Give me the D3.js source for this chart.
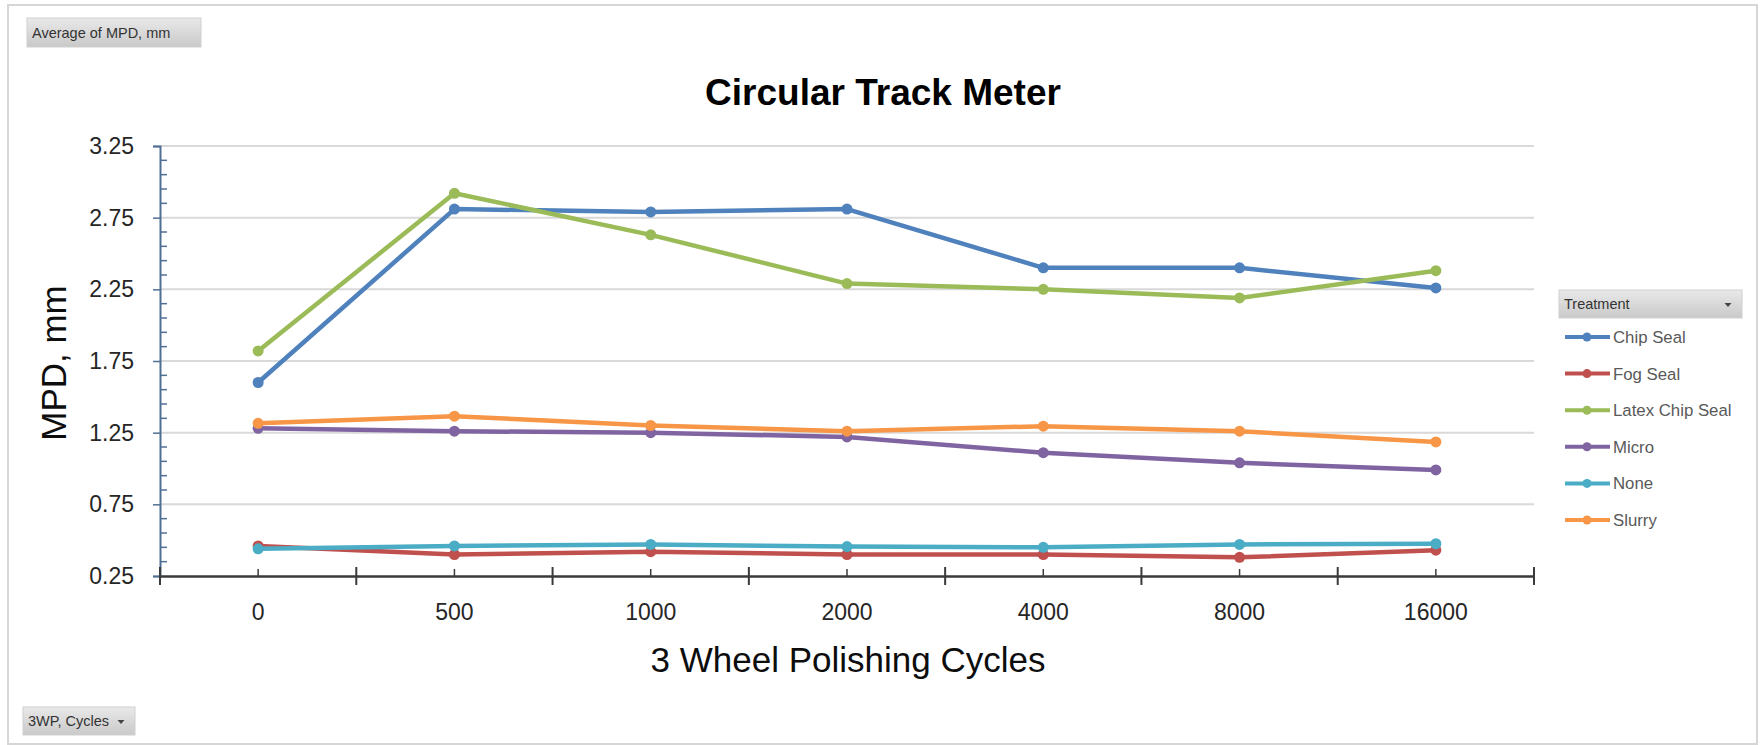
<!DOCTYPE html>
<html>
<head>
<meta charset="utf-8">
<script src="https://cdn.jsdelivr.net/npm/d3@7"></script>
<style>
  html, body { margin: 0; padding: 0; background: #fff; }
  svg { display: block; font-family: "Liberation Sans", Arial, sans-serif; }
</style>
</head>
<body>
<svg id="chart" width="1763" height="745"></svg>
<script>
// ---- data ----
const cycles = ["0", "500", "1000", "2000", "4000", "8000", "16000"];
const seriesNames = ["Chip Seal", "Fog Seal", "Latex Chip Seal", "Micro", "None", "Slurry"];
const chipSeal = [1.60, 2.81, 2.79, 2.81, 2.40, 2.40, 2.26];
const fogSeal = [0.46, 0.40, 0.42, 0.40, 0.40, 0.38, 0.43];
const latexChipSeal = [1.82, 2.92, 2.63, 2.29, 2.25, 2.19, 2.38];
const micro = [1.28, 1.26, 1.25, 1.22, 1.11, 1.04, 0.99];
const none = [0.44, 0.46, 0.47, 0.455, 0.45, 0.47, 0.475];
const slurry = [1.315, 1.365, 1.30, 1.26, 1.295, 1.26, 1.185];
const yTicks = [0.25, 0.75, 1.25, 1.75, 2.25, 2.75, 3.25];
const seriesColors = ["#4F81BD", "#C0504D", "#9BBB59", "#8064A2", "#4BACC6", "#F79646"];

const seriesValues = [chipSeal, fogSeal, latexChipSeal, micro, none, slurry];
const series = seriesNames.map((n, i) => ({ name: n, color: seriesColors[i], values: seriesValues[i] }));

const svg = d3.select("#chart");

// gradient for the pivot buttons
const defs = svg.append("defs");
const grad = defs.append("linearGradient").attr("id", "btn").attr("x1", 0).attr("y1", 0).attr("x2", 0).attr("y2", 1);
grad.append("stop").attr("offset", "0%").attr("stop-color", "#e9e9e9");
grad.append("stop").attr("offset", "100%").attr("stop-color", "#c9c9c9");

// outer border
svg.append("rect").attr("x", 8).attr("y", 5).attr("width", 1749).attr("height", 739)
  .attr("fill", "#fff").attr("stroke", "#d6d6d6").attr("stroke-width", 2);

// scales
const plotLeft = 160, plotRight = 1534, plotTop = 146, plotBottom = 576;
const x = d3.scaleBand().domain(cycles).range([plotLeft, plotRight]).padding(0);
const y = d3.scaleLinear().domain([0.25, 3.25]).range([plotBottom, plotTop]);
const cx = d => x(d) + x.bandwidth() / 2;

// gridlines
svg.append("g").selectAll("line").data(yTicks.slice(1)).join("line")
  .attr("x1", plotLeft).attr("x2", plotRight)
  .attr("y1", d => y(d)).attr("y2", d => y(d))
  .attr("stroke", "#d9d9d9").attr("stroke-width", 2);

// y axis
const yAxisColor = "#4f6f94";
const yAxis = svg.append("g").attr("transform", `translate(${plotLeft},0)`)
  .call(d3.axisLeft(y).tickValues(yTicks).tickFormat(d3.format(".2f")).tickSize(7).tickPadding(19));
yAxis.select(".domain").attr("stroke", yAxisColor).attr("stroke-width", 2);
yAxis.selectAll(".tick line").attr("stroke", yAxisColor).attr("stroke-width", 1.5);
yAxis.selectAll(".tick text").attr("font-size", 23).attr("fill", "#262626")
  .attr("font-family", "'Liberation Sans', Arial, sans-serif");
// minor ticks every 0.1
const minor = d3.range(0.35, 3.25, 0.1).filter(v => yTicks.every(t => Math.abs(t - v) > 0.01));
svg.append("g").selectAll("line").data(minor).join("line")
  .attr("x1", plotLeft).attr("x2", plotLeft + 7)
  .attr("y1", d => y(d)).attr("y2", d => y(d))
  .attr("stroke", yAxisColor).attr("stroke-width", 1.5);

// x axis
const xAxis = svg.append("g").attr("transform", `translate(0,${plotBottom})`)
  .call(d3.axisBottom(x).tickSizeInner(-7).tickSizeOuter(0).tickPadding(28));
xAxis.select(".domain").attr("stroke", "#3a3a3a").attr("stroke-width", 2.5);
xAxis.selectAll(".tick line").attr("stroke", "#3a3a3a").attr("stroke-width", 1.5);
xAxis.selectAll(".tick text").attr("font-size", 23).attr("fill", "#262626")
  .attr("font-family", "'Liberation Sans', Arial, sans-serif");
// category boundary ticks
const bounds = d3.range(cycles.length + 1).map(i => plotLeft + i * x.step());
svg.append("g").selectAll("line").data(bounds).join("line")
  .attr("x1", d => d).attr("x2", d => d)
  .attr("y1", plotBottom - 9).attr("y2", plotBottom + 9)
  .attr("stroke", "#3a3a3a").attr("stroke-width", 2);

// lines
const line = d3.line().x((d, i) => cx(cycles[i])).y(d => y(d));
const gS = svg.append("g");
series.forEach(s => {
  const g = gS.append("g");
  g.append("path").attr("d", line(s.values)).attr("fill", "none")
    .attr("stroke", s.color).attr("stroke-width", 4.5).attr("stroke-linejoin", "round");
  g.selectAll("circle").data(s.values).join("circle")
    .attr("cx", (d, i) => cx(cycles[i])).attr("cy", d => y(d)).attr("r", 5.5)
    .attr("fill", s.color);
});

// title
svg.append("text").attr("x", 883).attr("y", 105).attr("text-anchor", "middle")
  .attr("font-size", 37).attr("font-weight", "bold").attr("fill", "#000")
  .text("Circular Track Meter");

// axis titles
svg.append("text").attr("x", 848).attr("y", 672).attr("text-anchor", "middle")
  .attr("font-size", 35).attr("fill", "#0d0d0d").text("3 Wheel Polishing Cycles");
svg.append("text").attr("transform", "translate(66,363) rotate(-90)").attr("text-anchor", "middle")
  .attr("font-size", 35).attr("fill", "#0d0d0d").text("MPD, mm");

// pivot buttons
function button(x0, y0, w, h, label, arrow) {
  const g = svg.append("g");
  g.append("rect").attr("x", x0).attr("y", y0).attr("width", w).attr("height", h)
    .attr("fill", "url(#btn)").attr("stroke", "#d0d0d0").attr("stroke-width", 1);
  g.append("text").attr("x", x0 + 5).attr("y", y0 + h / 2 + 5).attr("font-size", 14.5)
    .attr("fill", "#333").text(label);
  if (arrow) {
    const ax = x0 + w - 14, ay = y0 + h / 2 - 1;
    g.append("path").attr("d", `M${ax - 3.5},${ay} L${ax + 3.5},${ay} L${ax},${ay + 4} Z`).attr("fill", "#444");
  }
}
button(27, 18, 174, 29, "Average of MPD, mm", false);
button(23, 707, 112, 28, "3WP, Cycles", true);
button(1559, 290, 183, 28, "Treatment", true);

// legend
const lg = svg.append("g");
series.forEach((s, i) => {
  const ly = 337 + i * 36.6;
  lg.append("line").attr("x1", 1565).attr("x2", 1610).attr("y1", ly).attr("y2", ly)
    .attr("stroke", s.color).attr("stroke-width", 4);
  lg.append("circle").attr("cx", 1587).attr("cy", ly).attr("r", 4.5).attr("fill", s.color);
  lg.append("text").attr("x", 1613).attr("y", ly + 6).attr("font-size", 16.8)
    .attr("fill", "#595959").text(s.name);
});
</script>
</body>
</html>
